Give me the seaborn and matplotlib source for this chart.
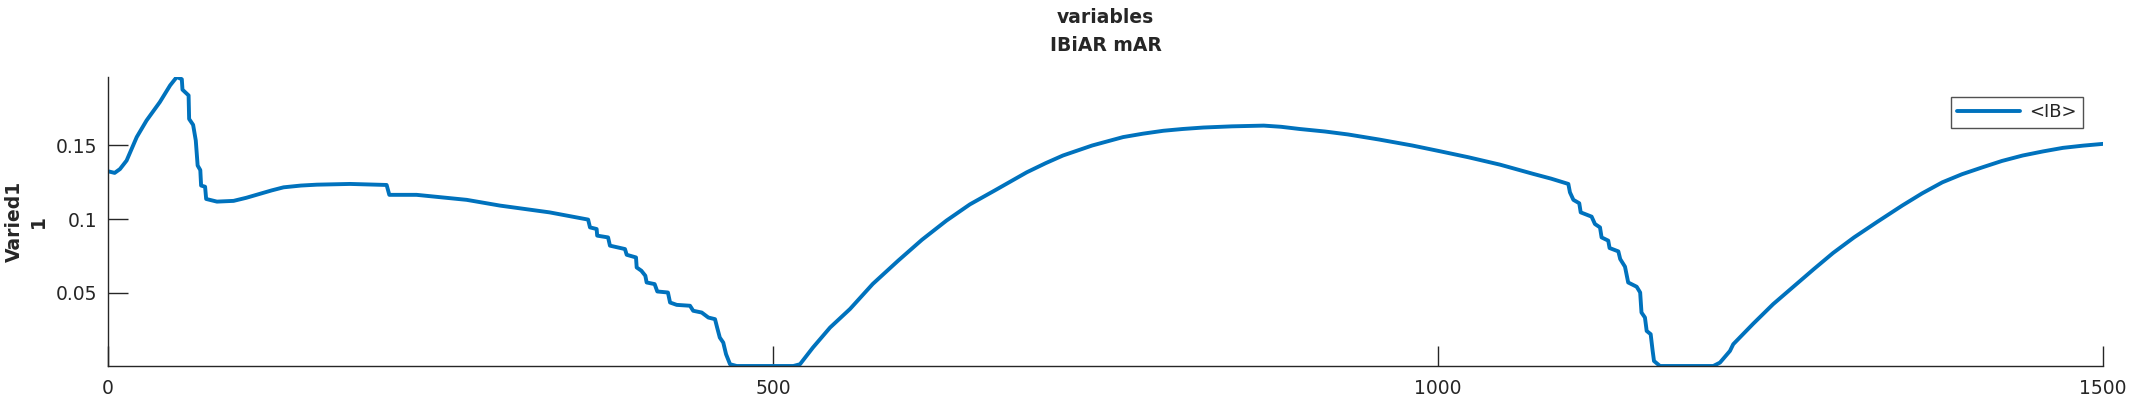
import numpy as np
import pandas as pd
import matplotlib
matplotlib.use('Agg')
import matplotlib.pyplot as plt
import seaborn as sns

# ----- values -----
time_pts = [0, 5, 9, 14, 21.6, 29, 39, 46.7, 51.7, 55.5, 56, 60.6, 61, 64, 66, 67.4, 69.4, 70,
            73, 73.8, 81.9, 94.4, 104, 114, 123, 132, 145, 157, 182, 209.5, 211.5, 232, 269.7,
            294.7, 332, 361, 362.4, 367.4, 367.8, 376, 377.4, 388.7, 390, 397, 397.5, 401, 404,
            405, 411, 413, 421, 422.6, 427.6, 437.6, 440, 446.4, 451.4, 456.4, 458, 460, 462.6,
            464.7, 467.7, 472.7, 515.3, 520.3, 530, 542.9, 557.9, 575, 594.1, 612, 630.4, 648,
            666.6, 690.8, 705, 718, 740, 763.2, 778, 793.5, 808, 823.6, 845, 869, 882, 896, 915,
            932.3, 956, 980.6, 1002, 1022.9, 1046.6, 1071.7, 1085, 1098, 1099.2, 1101.8, 1106.2,
            1107.3, 1115.5, 1118, 1121.8, 1123, 1128, 1129, 1135.6, 1137, 1140.6, 1143, 1149.4,
            1152, 1153, 1155.6, 1156.9, 1159.9, 1161.4, 1162.4, 1166.9, 1207, 1212, 1219.5, 1222,
            1237, 1252, 1267, 1282.6, 1297, 1312.8, 1330, 1349, 1364, 1379.2, 1394, 1409.4, 1424,
            1439.6, 1455, 1469.9, 1485, 1500]
ib_vals = [0.1325, 0.1314, 0.134, 0.1398, 0.1557, 0.167, 0.1795, 0.1908, 0.1965, 0.1950, 0.1879,
           0.1840, 0.1680, 0.1640, 0.1534, 0.1364, 0.1333, 0.1228, 0.1220, 0.1137, 0.1119,
           0.1124, 0.1145, 0.1171, 0.1195, 0.1216, 0.1228, 0.1234, 0.1239, 0.1232, 0.1165,
           0.1165, 0.1131, 0.1092, 0.1046, 0.0997, 0.0944, 0.0933, 0.0888, 0.0876, 0.0820,
           0.0797, 0.0758, 0.0740, 0.0672, 0.0650, 0.0616, 0.0570, 0.0559, 0.0509, 0.0502,
           0.0434, 0.0418, 0.0412, 0.0378, 0.0366, 0.0332, 0.0321, 0.0264, 0.0196, 0.0162,
           0.0083, 0.0015, 0.0003, 0.0003, 0.0015, 0.0128, 0.0264, 0.0390, 0.0560, 0.0718,
           0.0860, 0.0990, 0.1100, 0.1194, 0.1318, 0.1380, 0.1432, 0.1500, 0.1557, 0.1580,
           0.1600, 0.1612, 0.1622, 0.1630, 0.1635, 0.1627, 0.1612, 0.1595, 0.1575, 0.1540,
           0.1500, 0.1460, 0.1420, 0.1370, 0.1307, 0.1275, 0.1239, 0.1182, 0.1131, 0.1108,
           0.1046, 0.1017, 0.0967, 0.0944, 0.0876, 0.0854, 0.0804, 0.0781, 0.0729, 0.0677,
           0.0570, 0.0541, 0.0502, 0.0366, 0.0332, 0.0241, 0.0219, 0.0105, 0.0037, 0.0003,
           0.0003, 0.0026, 0.0105, 0.0151, 0.0290, 0.0423, 0.0540, 0.0661, 0.0770, 0.0876,
           0.0980, 0.1092, 0.1175, 0.1250, 0.1305, 0.1352, 0.1395, 0.1432, 0.1460, 0.1484,
           0.1499, 0.1511]
x_ticks = [0, 500, 1000, 1500]
y_ticks = [0.05, 0.1, 0.15]
y_tick_labels = ['0.05', '0.1', '0.15']

df = pd.DataFrame({'t': time_pts, 'IB': ib_vals})

sns.set_style('white')
plt.rcParams['font.family'] = ['DejaVu Sans']
axcol = '#262626'

fig = plt.figure(figsize=(21.33, 4), dpi=100)
ax = fig.add_axes([108 / 2133, 34 / 400, 1995 / 2133, 289 / 400])

sns.lineplot(data=df, x='t', y='IB', ax=ax, color='#0072BD', linewidth=2.8,
             estimator=None, sort=False, label='<IB>')

ax.set_xlim(0, 1500)
ax.set_ylim(0.0003, 0.1965)
ax.set_xticks(x_ticks)
ax.set_xticklabels([str(v) for v in x_ticks])
ax.set_yticks(y_ticks)
ax.set_yticklabels(y_tick_labels)
ax.tick_params(bottom=True, left=True, direction='in', length=14.4, width=1,
               colors=axcol, labelsize=13.5)
ax.tick_params(axis='y', pad=8)
ax.tick_params(axis='x', pad=9)

sns.despine(ax=ax)
for s in ['left', 'bottom']:
    ax.spines[s].set_color(axcol)
    ax.spines[s].set_linewidth(1)

ax.set_title('variables\nIBiAR mAR', fontsize=13.5, fontweight='bold', pad=19, linespacing=1.55)
ax.set_xlabel('')
ax.set_ylabel('Varied1\n1', fontsize=13.5, fontweight='bold', linespacing=1.35)
ax.yaxis.set_label_coords(-0.03, 0.5)

leg = ax.legend(loc='upper right', fontsize=13, frameon=True, fancybox=False,
                handlelength=3.5, handletextpad=0.5, borderaxespad=1.1, borderpad=0.35)
leg.get_frame().set_edgecolor(axcol)
leg.get_frame().set_linewidth(1)

fig.savefig('out.png', dpi=100)
